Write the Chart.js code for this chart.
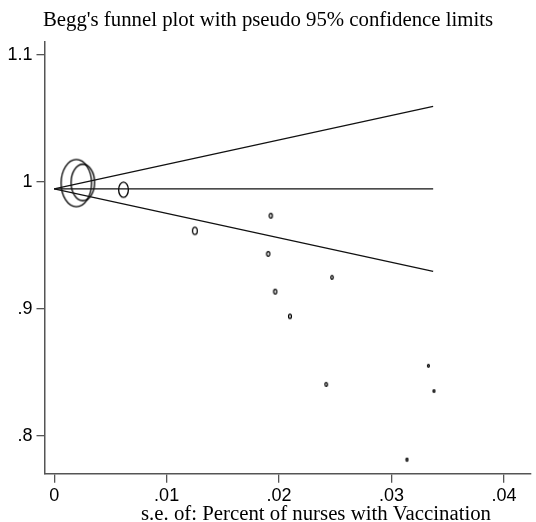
<!DOCTYPE html>
<html>
<head>
<meta charset="utf-8">
<script src="https://cdn.jsdelivr.net/npm/chart.js@4/dist/chart.umd.min.js"></script>
<style>
  html, body { margin: 0; padding: 0; background: #fff; }
  #wrap { width: 536px; height: 522px; }
</style>
</head>
<body>
<div id="wrap"><canvas id="funnel" width="536" height="522"></canvas></div>
<script>
// studies: standard error and estimate
const studySE = [0.00197, 0.00255, 0.00616, 0.01251, 0.01926, 0.01903, 0.01965, 0.02097, 0.02471, 0.02419, 0.03328, 0.03377, 0.03137];
const studyEst = [0.9991, 0.9996, 0.9939, 0.9615, 0.9734, 0.9433, 0.9136, 0.8942, 0.9249, 0.8406, 0.8552, 0.8353, 0.7812];

// pooled estimate and pseudo 95% limits at the two ends of the funnel
const limitSE = [0, 0.0337];
const pooled = [0.9945, 0.9945];
const upperLim = [0.9945, 1.0595];
const lowerLim = [0.9945, 0.9295];

const xTicks = [0, 0.01, 0.02, 0.03, 0.04];
const yTicks = [0.8, 0.9, 1, 1.1];

const titleText = "Begg's funnel plot with pseudo 95% confidence limits";
const xTitleText = "s.e. of: Percent of nurses with Vaccination";

// leading-zero-less labels like Stata
function fmt(v) {
  return v === 0 ? "0" : String(v).replace(/^0\./, ".");
}

// hollow "o" markers, size goes with 1/se (weight)
const markerCache = {};
function marker(se) {
  if (markerCache[se]) return markerCache[se];
  const w = 0.06 / se;
  const h = w * 1.55;
  const c = document.createElement("canvas");
  c.width = Math.ceil(w + 3);
  c.height = Math.ceil(h + 3);
  const g = c.getContext("2d");
  g.strokeStyle = "#000";
  g.lineWidth = 1.3;
  g.beginPath();
  g.ellipse(c.width / 2, c.height / 2, w / 2, h / 2, 0, 0, Math.PI * 2);
  g.stroke();
  markerCache[se] = c;
  return c;
}

const toPts = (xs, ys) => xs.map((x, i) => ({ x: x, y: ys[i] }));

// x axis title sits off-centre in the original (Stata plot region is wider)
const xTitlePlugin = {
  id: "xTitle",
  afterDraw(chart) {
    const ctx = chart.ctx;
    ctx.save();
    ctx.font = "20.8px 'Liberation Serif', 'Times New Roman', serif";
    ctx.fillStyle = "#000";
    ctx.textAlign = "center";
    ctx.textBaseline = "alphabetic";
    ctx.fillText(xTitleText, 316, 520);
    ctx.restore();
  },
};

const lineStyle = {
  type: "line",
  borderColor: "#111",
  borderWidth: 1.2,
  pointRadius: 0,
  fill: false,
};

const tickFont = { family: "'Liberation Sans', Arial, sans-serif", size: 18 };

// no extra room for edge labels
function noPad(s) {
  s.paddingLeft = 0;
  s.paddingRight = 0;
  s.paddingTop = 0;
  s.paddingBottom = 0;
}

new Chart(document.getElementById("funnel"), {
  type: "scatter",
  data: {
    datasets: [
      { ...lineStyle, label: "upper", data: toPts(limitSE, upperLim) },
      { ...lineStyle, label: "pooled", data: toPts(limitSE, pooled) },
      { ...lineStyle, label: "lower", data: toPts(limitSE, lowerLim) },
      {
        label: "studies",
        data: toPts(studySE, studyEst),
        pointRadius: 3,
        pointStyle: (ctx) => marker(studySE[ctx.dataIndex]),
      },
    ],
  },
  options: {
    responsive: false,
    animation: false,
    devicePixelRatio: 1,
    layout: { padding: 0 },
    plugins: {
      legend: { display: false },
      tooltip: { enabled: false },
      title: {
        display: true,
        text: titleText,
        color: "#000",
        font: { family: "'Liberation Serif', 'Times New Roman', serif", size: 20.8, weight: "normal" },
        padding: { top: 8.5, bottom: 8.2 },
      },
    },
    scales: {
      x: {
        type: "linear",
        min: -0.00086,
        max: 0.0424,
        afterBuildTicks: (s) => { s.ticks = xTicks.map((v) => ({ value: v })); },
        afterFit: (s) => { s.height = 48.3; noPad(s); },
        grid: { drawOnChartArea: false, drawTicks: true, tickLength: 9, color: "#555", lineWidth: 1.3 },
        border: { display: true, color: "#555", width: 1.5 },
        ticks: { color: "#000", font: tickFont, padding: 3, maxRotation: 0, autoSkip: false, callback: (v) => fmt(v) },
      },
      y: {
        type: "linear",
        min: 0.7702,
        max: 1.1105,
        afterBuildTicks: (s) => { s.ticks = yTicks.map((v) => ({ value: v })); },
        afterFit: (s) => { s.width = 44.5; noPad(s); },
        grid: { drawOnChartArea: false, drawTicks: true, tickLength: 8, color: "#555", lineWidth: 1.3 },
        border: { display: true, color: "#555", width: 1.5 },
        ticks: { color: "#000", font: tickFont, padding: 4, autoSkip: false, callback: (v) => fmt(v) },
      },
    },
  },
  plugins: [xTitlePlugin],
});
</script>
</body>
</html>
